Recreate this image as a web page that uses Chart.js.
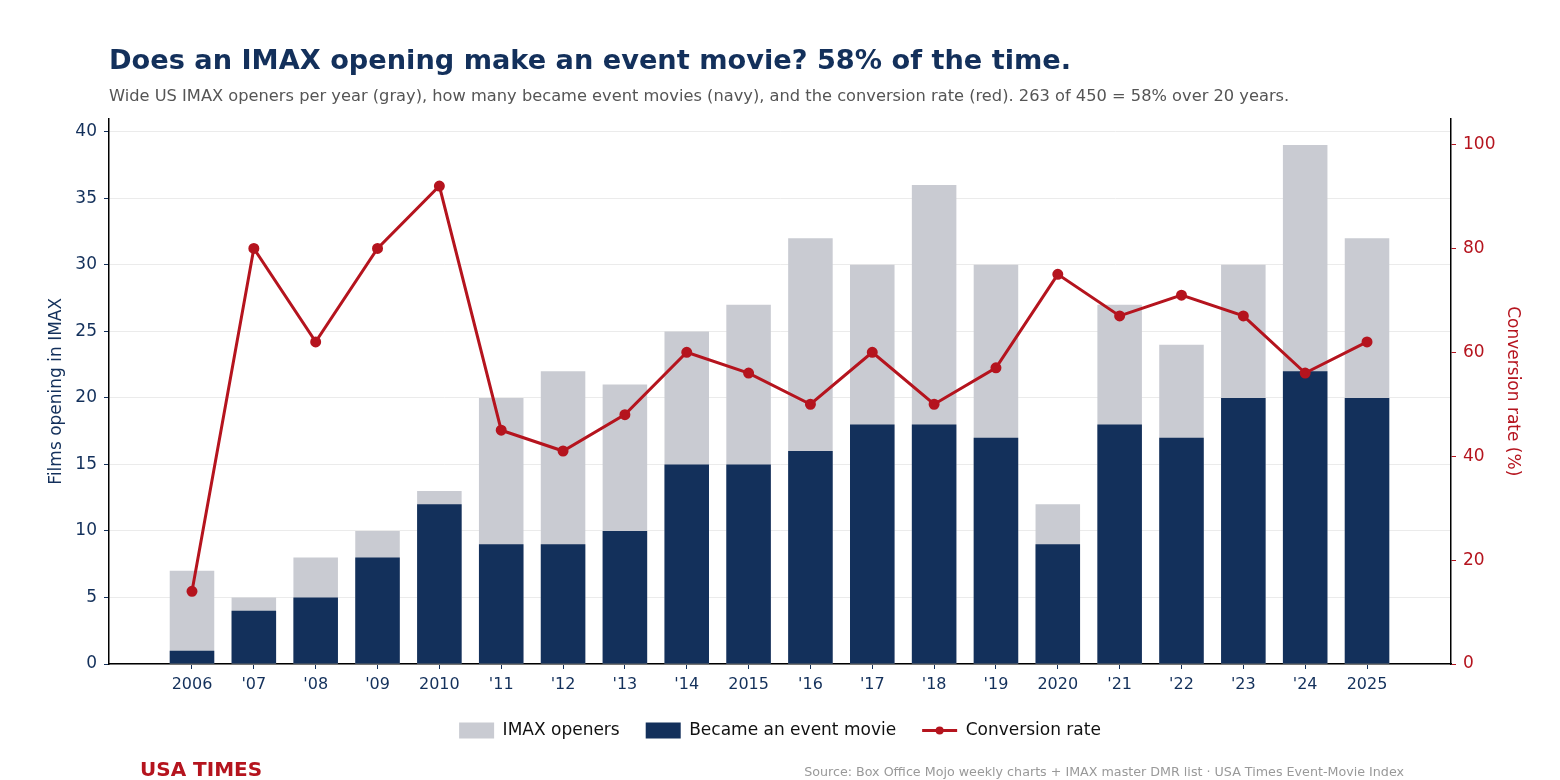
<!DOCTYPE html>
<html>
<head>
<meta charset="utf-8">
<script src="https://cdn.jsdelivr.net/npm/chart.js@4"></script>
<style>
  html, body { margin: 0; padding: 0; background: #fff; }
  #wrap { position: relative; width: 1560px; height: 780px; font-family: "DejaVu Sans", sans-serif; }
  #chart { position: absolute; left: 0; top: 0; }
  .txt { position: absolute; white-space: nowrap; line-height: normal; }
  #title { left: 109px; top: 44px; font-size: 27.2px; font-weight: bold; color: #13305b; }
  #subtitle { left: 109px; top: 86px; font-size: 16.25px; color: #555; }
  #brand { left: 140px; top: 757px; font-size: 20px; font-weight: bold; color: #b5141e; }
  #source { right: 156px; top: 764px; font-size: 12.7px; color: #999; }
</style>
</head>
<body>
<div id="wrap">
  <canvas id="chart" width="1560" height="780"></canvas>
  <div class="txt" id="title">Does an IMAX opening make an event movie? 58% of the time.</div>
  <div class="txt" id="subtitle">Wide US IMAX openers per year (gray), how many became event movies (navy), and the conversion rate (red). 263 of 450 = 58% over 20 years.</div>
  <div class="txt" id="brand">USA TIMES</div>
  <div class="txt" id="source">Source: Box Office Mojo weekly charts + IMAX master DMR list · USA Times Event-Movie Index</div>
</div>
<script>
const years = [2006, 2007, 2008, 2009, 2010, 2011, 2012, 2013, 2014, 2015,
               2016, 2017, 2018, 2019, 2020, 2021, 2022, 2023, 2024, 2025];
const yearLabels = ['2006', "'07", "'08", "'09", '2010', "'11", "'12", "'13", "'14", '2015',
                    "'16", "'17", "'18", "'19", '2020', "'21", "'22", "'23", "'24", '2025'];
const imaxOpeners = [7, 5, 8, 10, 13, 20, 22, 21, 25, 27, 32, 30, 36, 30, 12, 27, 24, 30, 39, 32];
const eventMovies = [1, 4, 5, 8, 12, 9, 9, 10, 15, 15, 16, 18, 18, 17, 9, 18, 17, 20, 22, 20];
const conversionRate = [14, 80, 62, 80, 92, 45, 41, 48, 60, 56, 50, 60, 50, 57, 75, 67, 71, 67, 56, 62];

const NAVY = '#13305b';
const GRAY = '#c9cbd2';
const RED = '#b5141e';
const FONT = '"DejaVu Sans", sans-serif';

const pts = vals => years.map((y, i) => ({ x: y, y: vals[i] }));

// puts a dot on the middle of the line legend sample, like the reference
const legendDot = {
  id: 'legendDot',
  afterDraw(chart) {
    const lg = chart.legend;
    if (!lg || !lg.legendHitBoxes) return;
    chart.data.datasets.forEach((ds, i) => {
      if (ds.type !== 'line') return;
      const hb = lg.legendHitBoxes[i];
      const c = chart.ctx;
      c.save();
      c.fillStyle = RED;
      c.beginPath();
      c.arc(hb.left + 35 / 2, hb.top + hb.height / 2, 4, 0, Math.PI * 2);
      c.fill();
      c.restore();
    });
  }
};

const ctx = document.getElementById('chart').getContext('2d');

new Chart(ctx, {
  type: 'bar',
  data: {
    datasets: [
      {
        label: 'IMAX openers',
        data: pts(imaxOpeners),
        backgroundColor: GRAY,
        grouped: false,
        order: 3,
        yAxisID: 'y',
        barPercentage: 0.72,
        categoryPercentage: 1
      },
      {
        label: 'Became an event movie',
        data: pts(eventMovies),
        backgroundColor: NAVY,
        grouped: false,
        order: 2,
        yAxisID: 'y',
        barPercentage: 0.72,
        categoryPercentage: 1
      },
      {
        type: 'line',
        label: 'Conversion rate',
        data: pts(conversionRate),
        borderColor: RED,
        backgroundColor: RED,
        borderWidth: 3,
        pointRadius: 4,
        pointHoverRadius: 4,
        order: 1,
        yAxisID: 'y2'
      }
    ]
  },
  options: {
    responsive: false,
    animation: false,
    layout: { padding: { top: 118.5, bottom: 31 } },
    plugins: {
      legend: {
        display: true,
        position: 'bottom',
        labels: {
          color: '#111',
          font: { family: FONT, size: 17 },
          usePointStyle: true,
          pointStyleWidth: 35,
          boxHeight: 16,
          padding: 26,
          generateLabels: chart => chart.data.datasets.map((ds, i) => ({
            text: ds.label,
            fillStyle: ds.backgroundColor,
            strokeStyle: ds.type === 'line' ? RED : ds.backgroundColor,
            lineWidth: ds.type === 'line' ? 3 : 0,
            pointStyle: ds.type === 'line' ? 'line' : 'rect',
            fontColor: '#111',
            datasetIndex: i,
            hidden: false
          }))
        }
      },
      tooltip: { enabled: false }
    },
    scales: {
      x: {
        type: 'linear',
        min: 2004.658,
        max: 2026.358,
        offset: false,
        afterBuildTicks: s => { s.ticks = years.map(v => ({ value: v })); },
        afterFit: s => { s.height = 32; },
        ticks: {
          autoSkip: false,
          maxRotation: 0,
          color: NAVY,
          font: { family: FONT, size: 16 },
          padding: 6,
          callback: v => yearLabels[years.indexOf(v)]
        },
        grid: { offset: false, drawOnChartArea: false, tickLength: 5, tickColor: NAVY },
        border: { display: true, color: '#000', width: 1.5 }
      },
      y: {
        position: 'left',
        min: 0,
        max: 41,
        afterFit: s => { s.width = 109; },
        ticks: {
          stepSize: 5,
          includeBounds: false,
          color: NAVY,
          font: { family: FONT, size: 17 },
          padding: 7
        },
        grid: { color: '#ebebeb', lineWidth: 1, tickLength: 5, tickColor: NAVY },
        border: { display: true, color: '#000', width: 1.5 },
        title: {
          display: true,
          text: 'Films opening in IMAX',
          color: NAVY,
          font: { family: FONT, size: 17 },
          padding: { top: 46, bottom: 0 }
        }
      },
      y2: {
        position: 'right',
        min: 0,
        max: 105,
        afterFit: s => { s.width = 109; },
        ticks: {
          stepSize: 20,
          includeBounds: false,
          color: RED,
          font: { family: FONT, size: 17 },
          padding: 7
        },
        grid: { drawOnChartArea: false, tickLength: 5, tickColor: RED },
        border: { display: true, color: '#000', width: 1.5 },
        title: {
          display: true,
          text: 'Conversion rate (%)',
          color: RED,
          font: { family: FONT, size: 17 },
          padding: { top: 37, bottom: 0 }
        }
      }
    }
  },
  plugins: [legendDot]
});
</script>
</body>
</html>
